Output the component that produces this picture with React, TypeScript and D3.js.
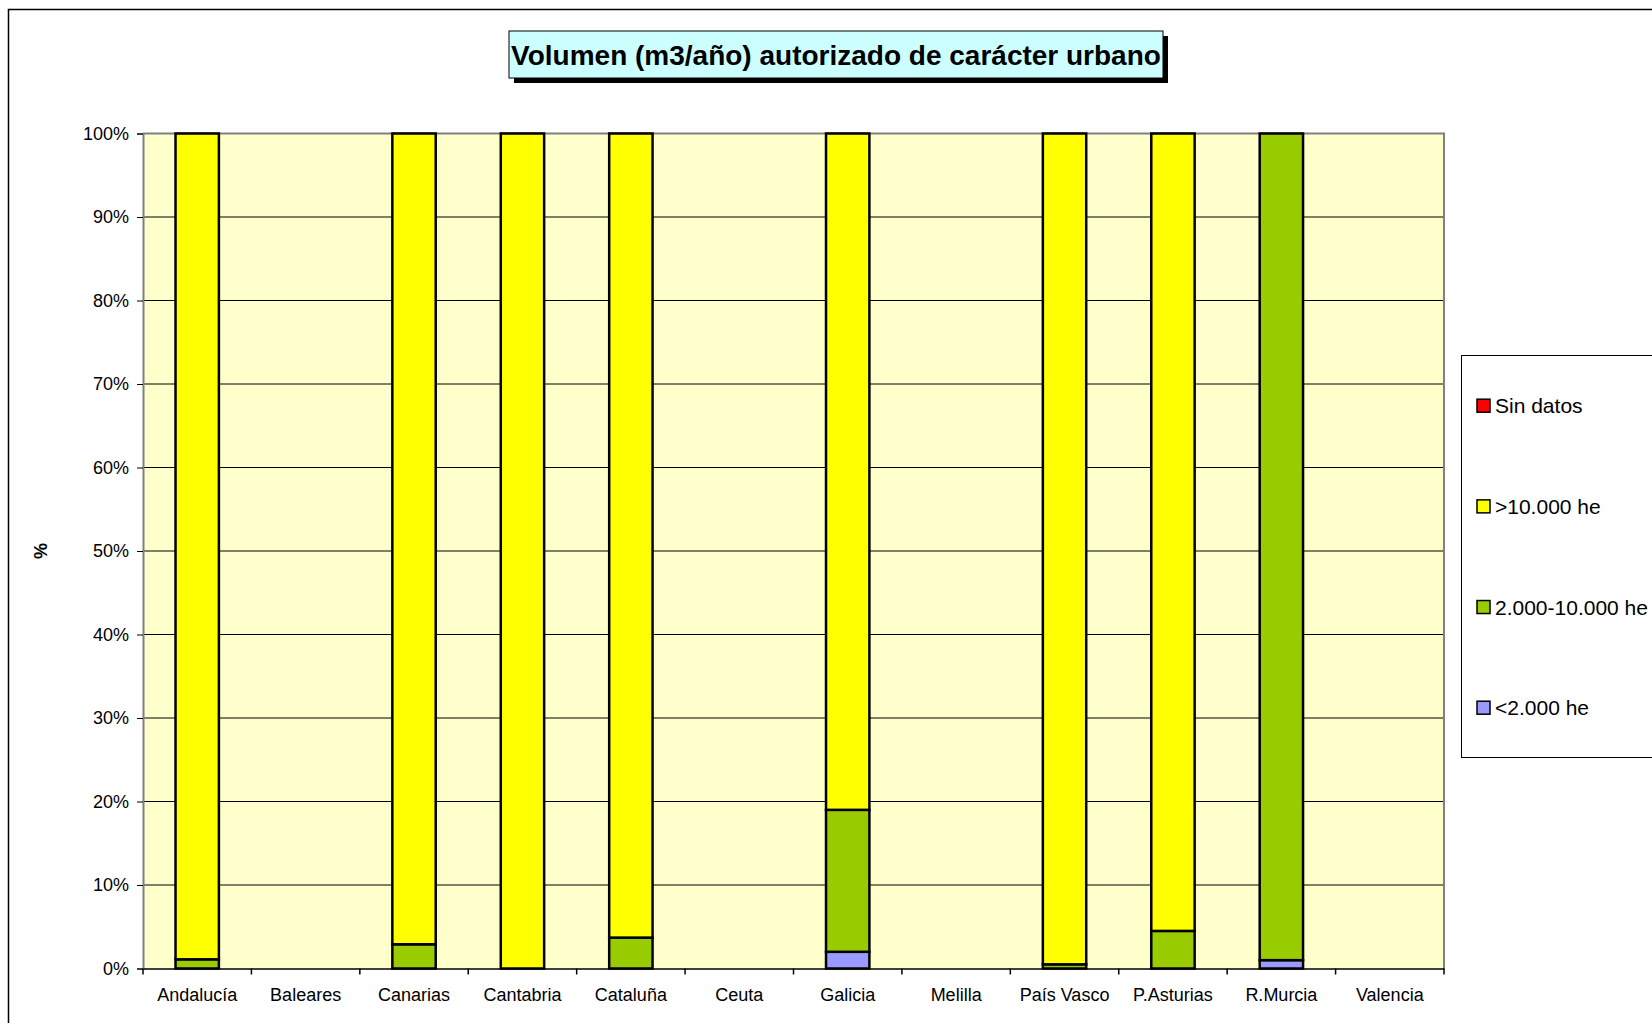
import * as d3 from "d3";
import React, { useEffect, useRef } from "react";

const regions = [
  "Andalucía",
  "Baleares",
  "Canarias",
  "Cantabria",
  "Cataluña",
  "Ceuta",
  "Galicia",
  "Melilla",
  "País Vasco",
  "P.Asturias",
  "R.Murcia",
  "Valencia",
];

// percentages per region, bottom to top of each bar
const lt2000 = [0, 0, 0, 0, 0, 0, 2.0, 0, 0, 0, 1.0, 0];
const mid2000to10000 = [1.1, 0, 2.9, 0, 3.7, 0, 17.0, 0, 0.5, 4.5, 99.0, 0];
const gt10000 = [98.9, 0, 97.1, 100, 96.3, 0, 81.0, 0, 99.5, 95.5, 0, 0];
const sinDatos = [0, 0, 0, 0, 0, 0, 0, 0, 0, 0, 0, 0];

const seriesNames = ["<2.000 he", "2.000-10.000 he", ">10.000 he", "Sin datos"];
const seriesColors = ["#9999FF", "#99CC00", "#FFFF00", "#FF0000"];
const yTicks = [0, 10, 20, 30, 40, 50, 60, 70, 80, 90, 100];

const W = 1652;
const H = 1023;

const App = () => {
  const svgRef = useRef<SVGSVGElement>(null);

  useEffect(() => {
    const svg = d3.select(svgRef.current);
    svg.selectAll("*").remove();

    const plot = { left: 143, right: 1444, top: 133.5, bottom: 968.5 };
    const font = "'Liberation Sans', Arial, Helvetica, sans-serif";

    // outer chart frame
    svg
      .append("rect")
      .attr("x", 8.5)
      .attr("y", 9.5)
      .attr("width", W + 20)
      .attr("height", H + 20)
      .attr("fill", "#fff")
      .attr("stroke", "#000")
      .attr("stroke-width", 1.5);

    const x = d3
      .scaleBand<string>()
      .domain(regions)
      .range([plot.left, plot.right])
      .padding(0);

    const y = d3
      .scaleLinear()
      .domain([0, 100])
      .range([plot.bottom, plot.top]);

    // plot background
    svg
      .append("rect")
      .attr("x", plot.left)
      .attr("y", plot.top)
      .attr("width", plot.right - plot.left)
      .attr("height", plot.bottom - plot.top)
      .attr("fill", "#FFFFCC");

    // gridlines
    svg
      .append("g")
      .selectAll("line")
      .data(yTicks.filter((t) => t > 0 && t < 100))
      .enter()
      .append("line")
      .attr("x1", plot.left)
      .attr("x2", plot.right)
      .attr("y1", (d) => y(d))
      .attr("y2", (d) => y(d))
      .attr("stroke", "#000")
      .attr("stroke-width", 1);

    // top and right border of plot area
    svg
      .append("path")
      .attr("d", `M${plot.left},${plot.top}H${plot.right}V${plot.bottom}`)
      .attr("fill", "none")
      .attr("stroke", "#808080")
      .attr("stroke-width", 2);

    // stacked bars
    const table = regions.map((r, i) => ({
      region: r,
      [seriesNames[0]]: lt2000[i],
      [seriesNames[1]]: mid2000to10000[i],
      [seriesNames[2]]: gt10000[i],
      [seriesNames[3]]: sinDatos[i],
    }));
    const stack = d3.stack<any>().keys(seriesNames)(table);
    const barW = x.bandwidth() * 0.4;

    stack.forEach((layer, li) => {
      svg
        .append("g")
        .selectAll("rect")
        .data(layer.filter((d) => d[1] - d[0] > 0))
        .enter()
        .append("rect")
        .attr("x", (d) => x(d.data.region)! + (x.bandwidth() - barW) / 2)
        .attr("width", barW)
        .attr("y", (d) => y(d[1]))
        .attr("height", (d) => y(d[0]) - y(d[1]))
        .attr("fill", seriesColors[li])
        .attr("stroke", "#000")
        .attr("stroke-width", 2.5);
    });

    // y axis
    const yAxis = svg
      .append("g")
      .attr("transform", `translate(${plot.left},0)`)
      .call(
        d3
          .axisLeft(y)
          .tickValues(yTicks)
          .tickSize(6)
          .tickPadding(8)
          .tickFormat((d) => `${d}%`)
      );
    yAxis.select(".domain").attr("stroke", "#808080").attr("stroke-width", 2);
    yAxis.selectAll(".tick line").attr("stroke", "#000");
    yAxis
      .selectAll("text")
      .attr("font-family", font)
      .attr("font-size", 18)
      .attr("fill", "#000");

    // x axis
    const xAxis = svg
      .append("g")
      .attr("transform", `translate(0,${plot.bottom})`)
      .call(d3.axisBottom(x).tickSize(0).tickPadding(20));
    xAxis.select(".domain").attr("stroke", "#000").attr("stroke-width", 1.5);
    xAxis
      .selectAll("text")
      .attr("font-family", font)
      .attr("font-size", 18)
      .attr("fill", "#000");
    svg
      .append("g")
      .selectAll("line")
      .data(regions.concat(["__end"]))
      .enter()
      .append("line")
      .attr("x1", (d, i) => plot.left + i * x.bandwidth())
      .attr("x2", (d, i) => plot.left + i * x.bandwidth())
      .attr("y1", plot.bottom)
      .attr("y2", plot.bottom + 6)
      .attr("stroke", "#000")
      .attr("stroke-width", 1.5);

    // y axis title
    svg
      .append("text")
      .attr("transform", "translate(42,551) rotate(-90)")
      .attr("text-anchor", "middle")
      .attr("dominant-baseline", "middle")
      .attr("font-family", font)
      .attr("font-size", 18)
      .attr("font-weight", "bold")
      .text("%");

    // title box with shadow
    const tb = { x: 509, y: 31, w: 654, h: 47 };
    svg
      .append("rect")
      .attr("x", tb.x + 5)
      .attr("y", tb.y + 5)
      .attr("width", tb.w)
      .attr("height", tb.h)
      .attr("fill", "#000");
    svg
      .append("rect")
      .attr("x", tb.x)
      .attr("y", tb.y)
      .attr("width", tb.w)
      .attr("height", tb.h)
      .attr("fill", "#CCFFFF")
      .attr("stroke", "#000")
      .attr("stroke-width", 1);
    svg
      .append("text")
      .attr("x", tb.x + tb.w / 2)
      .attr("y", tb.y + tb.h / 2 + 10)
      .attr("text-anchor", "middle")
      .attr("font-family", font)
      .attr("font-size", 28)
      .attr("font-weight", "bold")
      .text("Volumen (m3/año) autorizado de carácter urbano");

    // legend
    svg
      .append("rect")
      .attr("x", 1461.5)
      .attr("y", 355.5)
      .attr("width", 220)
      .attr("height", 402)
      .attr("fill", "#fff")
      .attr("stroke", "#000")
      .attr("stroke-width", 1);

    const legendOrder = [3, 2, 1, 0];
    const legendY = d3
      .scalePoint<number>()
      .domain(legendOrder)
      .range([405.7, 707.7]);
    const lg = svg
      .append("g")
      .selectAll("g")
      .data(legendOrder)
      .enter()
      .append("g")
      .attr("transform", (d) => `translate(1477,${legendY(d)})`);
    lg.append("rect")
      .attr("x", 0)
      .attr("y", -6.5)
      .attr("width", 13)
      .attr("height", 13)
      .attr("fill", (d) => seriesColors[d])
      .attr("stroke", "#000")
      .attr("stroke-width", 1.5);
    lg.append("text")
      .attr("x", 18)
      .attr("y", 7.5)
      .attr("font-family", font)
      .attr("font-size", 21)
      .text((d) => seriesNames[d]);
  }, []);

  return (
    <svg
      ref={svgRef}
      width={W}
      height={H}
      style={{ position: "absolute", left: 0, top: 0, background: "#fff" }}
    ></svg>
  );
};

export default App;
